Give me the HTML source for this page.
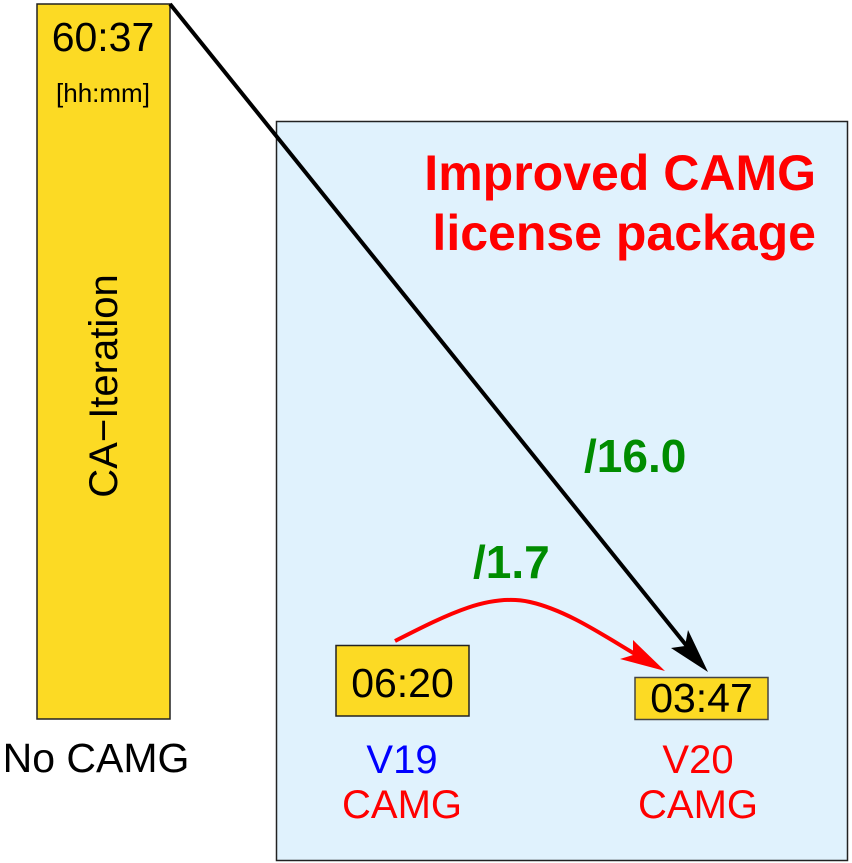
<!DOCTYPE html>
<html><head><meta charset="utf-8"><style>html,body{margin:0;padding:0;background:#fff}svg{display:block}</style></head>
<body>
<svg width="852" height="863" viewBox="0 0 852 863" xmlns="http://www.w3.org/2000/svg" font-family="Liberation Sans, sans-serif">
<rect x="37" y="4" width="133" height="715" fill="#fcda24" stroke="#222" stroke-width="1.5"/>
<text x="103" y="51" font-size="41" text-anchor="middle">60:37</text>
<text x="103" y="102" font-size="26" text-anchor="middle">[hh:mm]</text>
<text transform="translate(117,386) rotate(-90)" font-size="40" text-anchor="middle">CA−Iteration</text>
<text x="96" y="772" font-size="41" text-anchor="middle">No CAMG</text>
<rect x="276.5" y="121.5" width="571" height="739" fill="#e0f2fd" stroke="#222" stroke-width="1.5"/>
<text x="816" y="190" font-size="50" font-weight="bold" fill="#ff0000" text-anchor="end">Improved CAMG</text>
<text x="816" y="250" font-size="50" font-weight="bold" fill="#ff0000" text-anchor="end">license package</text>
<text x="584" y="472" font-size="46" font-weight="bold" fill="#008c00">/16.0</text>
<text x="473" y="578" font-size="46" font-weight="bold" fill="#008c00">/1.7</text>
<rect x="336" y="645.5" width="133" height="70.5" fill="#fcda24" stroke="#222" stroke-width="1.5"/>
<text x="402.5" y="697" font-size="41" text-anchor="middle">06:20</text>
<rect x="635" y="677.5" width="133" height="42" fill="#fcda24" stroke="#444" stroke-width="1.5"/>
<text x="701.5" y="712" font-size="41" text-anchor="middle">03:47</text>
<line x1="170" y1="4" x2="690" y2="650" stroke="#000" stroke-width="4"/>
<polygon points="708,672 671,648 685,646 688,630" fill="#000"/>
<path d="M395,641 C450,613 490,593 530,602 C570,611 610,640 647,661" fill="none" stroke="#ff0000" stroke-width="4"/>
<polygon points="665,671 620,659 633,655 633,640" fill="#ff0000"/>
<text x="402" y="773" font-size="40" fill="#0000ff" text-anchor="middle">V19</text>
<text x="402" y="818" font-size="40" fill="#ff0000" text-anchor="middle">CAMG</text>
<text x="698" y="773" font-size="40" fill="#ff0000" text-anchor="middle">V20</text>
<text x="698" y="818" font-size="40" fill="#ff0000" text-anchor="middle">CAMG</text>
</svg>
</body></html>
